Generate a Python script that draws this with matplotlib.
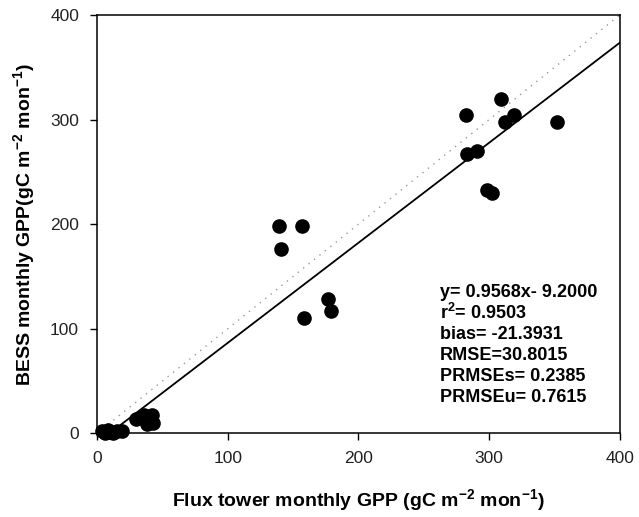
import numpy as np
import matplotlib
matplotlib.use('Agg')
import matplotlib.pyplot as plt

matplotlib.rcParams['font.family'] = ['Liberation Sans', 'DejaVu Sans']
matplotlib.rcParams['mathtext.fontset'] = 'custom'
matplotlib.rcParams['mathtext.rm'] = 'Liberation Sans'
matplotlib.rcParams['mathtext.bf'] = 'Liberation Sans:bold'

# ── 데이터 ──────────────────────────────────────────────────────
flux_gpp = [4, 6, 8, 10, 12, 15, 19,
            30, 36, 38, 42, 43,
            139, 141, 157, 158, 177, 179,
            282, 283, 291, 298, 302, 309, 312, 319, 352]
bess_gpp = [2, 0, 3, 1, 0, 2, 2,
            14, 17, 9, 17, 10,
            198, 176, 198, 110, 128, 117,
            304, 267, 270, 233, 230, 320, 298, 304, 298]

SLOPE, INTERCEPT = 0.9568, -9.2
stats_lines = [
    'y= 0.9568x- 9.2000',
    r'r$^{\mathbf{2}}$= 0.9503',
    'bias= -21.3931',
    'RMSE=30.8015',
    'PRMSEs= 0.2385',
    'PRMSEu= 0.7615',
]

# ── 그림 ──────────────────────────────────────────────────────────────
fig = plt.figure(figsize=(6.39, 5.17), dpi=100)
ax = fig.add_axes([0.152, 0.162, 0.818, 0.809])

ax.plot([0, 400], [0, 400], linestyle=(0, (1, 4)), color='#999999', linewidth=1.0, zorder=1)
xl = np.array([0, 400])
ax.plot(xl, SLOPE * xl + INTERCEPT, color='black', linewidth=1.3, zorder=2)
ax.plot(flux_gpp, bess_gpp, 'o', color='black', markersize=9.5, zorder=3, clip_on=False)

ax.set_xlim(0, 400)
ax.set_ylim(0, 400)
ax.set_xticks([0, 100, 200, 300, 400])
ax.set_yticks([0, 100, 200, 300, 400])
ax.tick_params(direction='out', length=5, width=1, labelsize=12.5, colors='black',
               labelcolor='#222222', top=False, right=False, pad=8)
for sp in ax.spines.values():
    sp.set_linewidth(1.1)

ax.set_xlabel(r'Flux tower monthly GPP (gC m$^{\mathbf{-2}}$ mon$^{\mathbf{-1}}$)',
              fontsize=14, fontweight='bold', labelpad=15)
ax.set_ylabel(r'BESS monthly GPP(gC m$^{\mathbf{-2}}$ mon$^{\mathbf{-1}}$)',
              fontsize=14, fontweight='bold', labelpad=9)

for i, line in enumerate(stats_lines):
    ax.text(0.656, 0.337 - i * 0.0502, line, transform=ax.transAxes,
            fontsize=13, fontweight='bold', ha='left', va='center')

fig.savefig('out.png', dpi=100)
